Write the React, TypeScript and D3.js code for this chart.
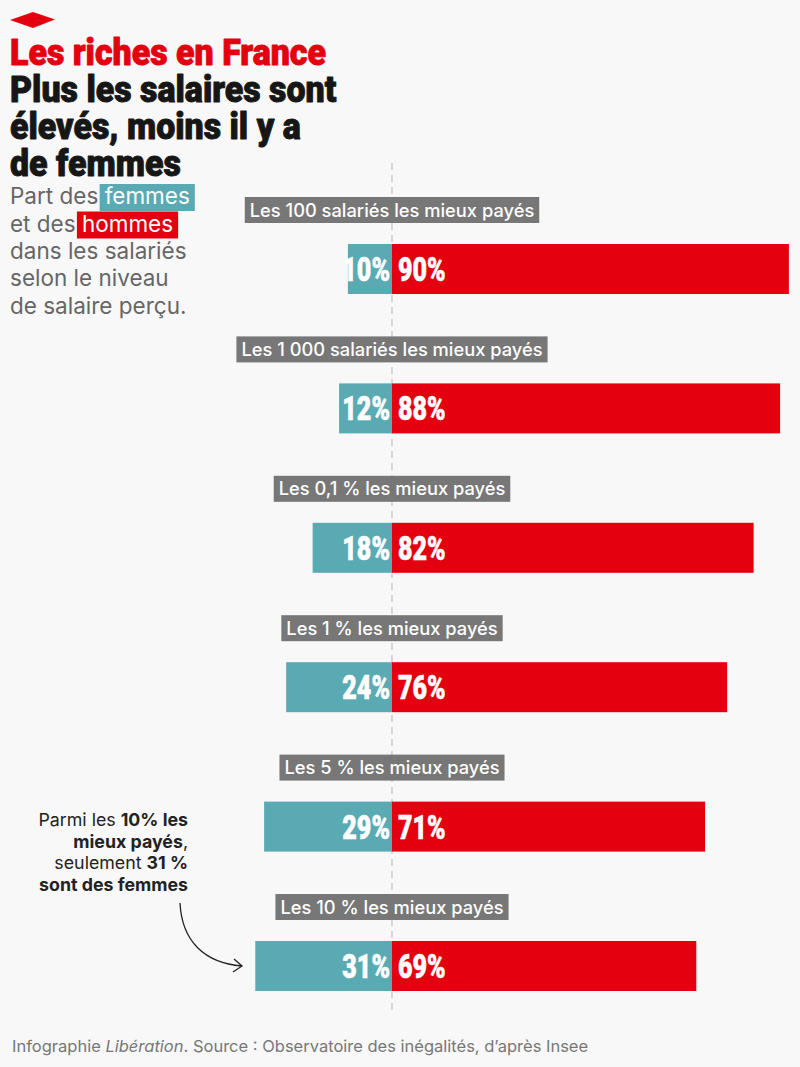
import { useEffect, useRef } from "react";
import * as d3 from "d3";

const categories = [
  "Les 100 salariés les mieux payés",
  "Les 1 000 salariés les mieux payés",
  "Les 0,1 % les mieux payés",
  "Les 1 % les mieux payés",
  "Les 5 % les mieux payés",
  "Les 10 % les mieux payés",
];
const womenShare = [10, 12, 18, 24, 29, 31];
const menShare = [90, 88, 82, 76, 71, 69];

const titleLines = ["Plus les salaires sont", "élevés, moins il y a", "de femmes"];

const RED = "#e3000f";
const TEAL = "#5aaab4";
const WIDTH = 800;
const HEIGHT = 1067;

export default function App() {
  const svgRef = useRef<SVGSVGElement | null>(null);

  useEffect(() => {
    document.body.style.margin = "0";
    if (!svgRef.current) return;
    const svg = d3.select(svgRef.current);
    svg.selectAll("*").remove();

    svg.append("rect").attr("width", WIDTH).attr("height", HEIGHT).attr("fill", "#f8f8f8");

    // logo
    svg
      .append("path")
      .attr("d", "M10,20 L33,12 L55,19.5 L33,28 Z")
      .attr("fill", RED);

    // title, compressed to mimic the condensed display face
    const title = svg
      .append("g")
      .attr("transform", "translate(10,0) scale(0.93,1)")
      .attr("font-family", "Roboto, sans-serif")
      .attr("font-weight", 900)
      .attr("font-size", 36.5)
      .attr("stroke-width", 0.9)
      .attr("stroke-linejoin", "round");
    title.append("text").attr("y", 65).attr("fill", RED).attr("stroke", RED).text("Les riches en France");
    title
      .selectAll("text.line")
      .data(titleLines)
      .join("text")
      .attr("class", "line")
      .attr("y", (_, i) => 102 + i * 37)
      .attr("fill", "#161616")
      .attr("stroke", "#161616")
      .text((d) => d);

    // subtitle with highlighted words
    const sub = svg
      .append("g")
      .attr("font-family", "Inter, sans-serif")
      .attr("font-size", 22.5)
      .attr("fill", "#666");
    const boxes = sub.append("g");
    const highlighted: [string, string, string, number][] = [
      ["Part des ", "femmes", TEAL, 204],
      ["et des ", "hommes", RED, 231.5],
    ];
    highlighted.forEach(([lead, word, color, yy]) => {
      const t = sub.append("text").attr("x", 10).attr("y", yy);
      const a = t.append("tspan").text(lead);
      t.append("tspan").attr("fill", "#fff").text(word);
      const leadW = (a.node() as SVGTSpanElement).getComputedTextLength();
      const probe = sub.append("text").text(word);
      const wordW = (probe.node() as SVGTextElement).getComputedTextLength();
      probe.remove();
      boxes
        .append("rect")
        .attr("x", 10 + leadW - 5)
        .attr("y", yy - 20)
        .attr("width", wordW + 10)
        .attr("height", 27)
        .attr("fill", color);
    });
    ["dans les salariés", "selon le niveau", "de salaire perçu."].forEach((line, i) => {
      sub.append("text").attr("x", 10).attr("y", 259 + i * 27.3).text(line);
    });

    // chart
    const zeroX = 392;
    const x = d3.scaleLinear().domain([0, 100]).range([0, 441]);
    const y = d3
      .scaleBand<string>()
      .domain(categories)
      .range([197, 197 + 139.4 * categories.length])
      .padding(0);
    const barOffset = 47;
    const barHeight = 50;

    svg
      .append("line")
      .attr("x1", zeroX)
      .attr("x2", zeroX)
      .attr("y1", 163)
      .attr("y2", 1010)
      .attr("stroke", "#b5b5b5")
      .attr("stroke-width", 1)
      .attr("stroke-dasharray", "7,5");

    const rows = svg
      .append("g")
      .selectAll("g")
      .data(categories)
      .join("g")
      .attr("transform", (d) => `translate(0,${y(d)})`);

    // category label boxes
    rows.each(function (d) {
      const g = d3.select(this);
      const box = g.append("rect").attr("fill", "#777").attr("height", 26).attr("y", 0);
      const label = g
        .append("text")
        .attr("x", zeroX)
        .attr("y", 19.5)
        .attr("text-anchor", "middle")
        .attr("font-family", "Inter, sans-serif")
        .attr("font-weight", 500)
        .attr("font-size", 18.3)
        .attr("fill", "#fff")
        .text(d);
      const w = (label.node() as SVGTextElement).getComputedTextLength();
      box.attr("x", zeroX - w / 2 - 5).attr("width", w + 10);
    });

    rows
      .append("rect")
      .attr("x", (_, i) => zeroX - x(womenShare[i]))
      .attr("y", barOffset)
      .attr("width", (_, i) => x(womenShare[i]))
      .attr("height", barHeight)
      .attr("fill", TEAL);

    rows
      .append("rect")
      .attr("x", zeroX)
      .attr("y", barOffset)
      .attr("width", (_, i) => x(menShare[i]))
      .attr("height", barHeight)
      .attr("fill", RED);

    const valueLabel = (sel: d3.Selection<SVGGElement, string, SVGGElement, unknown>, values: number[], anchor: string, px: number) =>
      sel
        .append("g")
        .attr("transform", `translate(${px},${barOffset + 37}) scale(0.76,1)`)
        .append("text")
        .attr("text-anchor", anchor)
        .attr("font-family", "Roboto, sans-serif")
        .attr("font-weight", 900)
        .attr("font-size", 33)
        .attr("fill", "#fff")
        .attr("stroke", "#fff")
        .attr("stroke-width", 0.6)
        .text((_, i) => `${values[i]}%`);

    valueLabel(rows as never, womenShare, "end", zeroX - 2);
    valueLabel(rows as never, menShare, "start", zeroX + 6);

    // annotation
    const note = svg
      .append("g")
      .attr("font-family", "Inter, sans-serif")
      .attr("font-size", 17.8)
      .attr("fill", "#222")
      .attr("text-anchor", "end");
    const noteLines: [string, boolean][][] = [
      [["Parmi les ", false], ["10% les", true]],
      [["mieux payés", true], [",", false]],
      [["seulement ", false], ["31 %", true]],
      [["sont des femmes", true]],
    ];
    noteLines.forEach((parts, i) => {
      const t = note.append("text").attr("x", 188).attr("y", 826 + i * 21.7);
      parts.forEach(([s, bold]) => {
        t.append("tspan").attr("font-weight", bold ? 700 : 400).text(s);
      });
    });

    svg
      .append("path")
      .attr("d", "M180,903 C182,942 205,963 242,966")
      .attr("fill", "none")
      .attr("stroke", "#222")
      .attr("stroke-width", 1.3);
    svg
      .append("path")
      .attr("d", "M234,959 L242,966 L233,972")
      .attr("fill", "none")
      .attr("stroke", "#222")
      .attr("stroke-width", 1.3);

    // footer
    const foot = svg
      .append("text")
      .attr("x", 12)
      .attr("y", 1052)
      .attr("font-family", "Inter, sans-serif")
      .attr("font-size", 16.5)
      .attr("fill", "#777");
    foot.append("tspan").text("Infographie ");
    foot.append("tspan").attr("font-style", "italic").text("Libération");
    foot.append("tspan").text(". Source : Observatoire des inégalités, d’après Insee");
  }, []);

  return <svg ref={svgRef} width={WIDTH} height={HEIGHT} style={{ display: "block" }} />;
}
